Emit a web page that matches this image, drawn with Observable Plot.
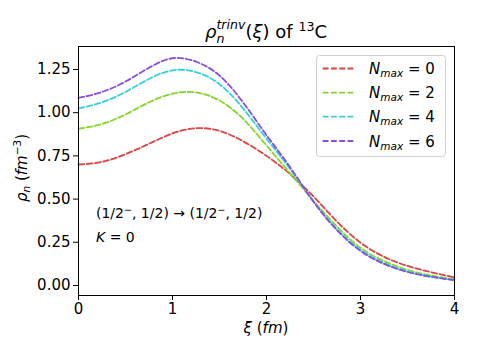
<!DOCTYPE html>
<html>
<head>
<meta charset="utf-8">
<script src="https://cdn.jsdelivr.net/npm/d3@7"></script>
<script src="https://cdn.jsdelivr.net/npm/@observablehq/plot@0.6"></script>
<style>
  html, body { margin: 0; padding: 0; background: white; }
  #chart svg { display: block; }
</style>
</head>
<body>
<div id="chart"></div>
<script>
// ---- data ----
const xi = [0, 0.25, 0.5, 0.75, 1.0, 1.25, 1.5, 1.75, 2.0, 2.25, 2.5, 2.75, 3.0, 3.25, 3.5, 3.75, 4.0];
const nmax0 = [0.700, 0.715, 0.760, 0.820, 0.880, 0.910, 0.895, 0.835, 0.750, 0.645, 0.515, 0.370, 0.248, 0.166, 0.113, 0.077, 0.046];
const nmax2 = [0.907, 0.935, 0.990, 1.060, 1.110, 1.117, 1.070, 0.965, 0.810, 0.650, 0.490, 0.340, 0.218, 0.141, 0.090, 0.058, 0.036];
const nmax4 = [1.025, 1.060, 1.120, 1.195, 1.245, 1.235, 1.165, 1.025, 0.850, 0.675, 0.485, 0.325, 0.206, 0.130, 0.082, 0.052, 0.032];
const nmax6 = [1.085, 1.120, 1.180, 1.260, 1.315, 1.295, 1.215, 1.060, 0.870, 0.685, 0.485, 0.320, 0.200, 0.125, 0.078, 0.050, 0.030];
const seriesNames = ["0", "2", "4", "6"];
const seriesColors = ["#dc4343", "#84d62a", "#34d2d6", "#8a4ddf"];
const yTicks = [0, 0.25, 0.5, 0.75, 1.0, 1.25];
const xTicks = [0, 1, 2, 3, 4];

const allSeries = [nmax0, nmax2, nmax4, nmax6];
const rows = [];
allSeries.forEach((vals, s) => {
  vals.forEach((v, i) => rows.push({xi: xi[i], rho: v, n: seriesNames[s]}));
});

const FONT = "DejaVu Sans";
const W = 477, H = 358;
const mL = 78, mR = 23, mT = 46, mB = 63;

const chart = Plot.plot({
  width: W, height: H,
  marginLeft: mL, marginRight: mR, marginTop: mT, marginBottom: mB,
  style: {fontFamily: FONT, fontSize: "15px", color: "black", background: "white"},
  x: {domain: [0, 4], label: null},
  y: {domain: [-0.058, 1.383], label: null},
  color: {domain: seriesNames, range: seriesColors},
  marks: [
    Plot.line(rows, {x: "xi", y: "rho", z: "n", stroke: "n", strokeWidth: 1.8,
      strokeDasharray: "5.8,2.5", curve: "natural"}),
    Plot.frame({stroke: "black", strokeWidth: 1}),
    Plot.axisX({ticks: xTicks, tickSize: 5, tickPadding: 3, fontSize: 15, stroke: "black", tickFormat: d3.format("d")}),
    Plot.axisY({ticks: yTicks, tickSize: 5, tickPadding: 3, fontSize: 15, stroke: "black", tickFormat: d3.format(".2f")})
  ]
});
document.getElementById("chart").appendChild(chart);

const svg = d3.select(chart);

// helper to build rich text
function rich(sel, parts) {
  parts.forEach(p => {
    const t = sel.append("tspan").text(p.t);
    if (p.i) t.attr("font-style", "italic");
    if (p.dy) t.attr("dy", p.dy);
    if (p.dx) t.attr("dx", p.dx);
    if (p.fs) t.attr("font-size", p.fs);
  });
  return sel;
}

// title
const title = svg.append("text")
  .attr("x", 266).attr("y", 38)
  .attr("text-anchor", "middle")
  .attr("font-family", FONT).attr("font-size", 18).attr("fill", "black");
rich(title, [
  {t: "ρ", i: true},
  {t: "n", i: true, fs: 12.6, dy: 5},
  {t: "trinv", i: true, fs: 12.6, dy: -14, dx: -8},
  {t: "(", dy: 9},
  {t: "ξ", i: true},
  {t: ") of "},
  {t: "13", fs: 12.6, dy: -7},
  {t: "C", dy: 7}
]);

// x label
const xl = svg.append("text")
  .attr("x", 266).attr("y", 333)
  .attr("text-anchor", "middle")
  .attr("font-family", FONT).attr("font-size", 15).attr("fill", "black");
rich(xl, [{t: "ξ", i: true}, {t: " ("}, {t: "fm", i: true}, {t: ")"}]);

// y label
const yl = svg.append("text")
  .attr("transform", "translate(27,168) rotate(-90)")
  .attr("text-anchor", "middle")
  .attr("font-family", FONT).attr("font-size", 15).attr("fill", "black");
rich(yl, [
  {t: "ρ", i: true},
  {t: "n", i: true, fs: 10.5, dy: 3},
  {t: " (", dy: -3},
  {t: "fm", i: true},
  {t: "−3", fs: 10.5, dy: -6},
  {t: ")", dy: 6}
]);

// annotation
const a1 = svg.append("text")
  .attr("x", 96).attr("y", 218)
  .attr("text-anchor", "start")
  .attr("font-family", FONT).attr("font-size", 14).attr("fill", "black");
rich(a1, [
  {t: "(1/2"}, {t: "−", fs: 9.5, dy: -5}, {t: ", 1/2) → (1/2", dy: 5},
  {t: "−", fs: 9.5, dy: -5}, {t: ", 1/2)", dy: 5}
]);
const a2 = svg.append("text")
  .attr("x", 96).attr("y", 242)
  .attr("text-anchor", "start")
  .attr("font-family", FONT).attr("font-size", 14).attr("fill", "black");
rich(a2, [{t: "K", i: true}, {t: " = 0"}]);

// legend
const lg = svg.append("g");
lg.append("rect")
  .attr("x", 316.5).attr("y", 55.5).attr("width", 129).attr("height", 101)
  .attr("rx", 3).attr("fill", "white").attr("fill-opacity", 0.8)
  .attr("stroke", "#d0d0d0").attr("stroke-width", 1);
const ly = [68.5, 92.7, 116.7, 141];
seriesNames.forEach((n, i) => {
  lg.append("line")
    .attr("x1", 322.7).attr("x2", 353.3).attr("y1", ly[i]).attr("y2", ly[i])
    .attr("stroke", seriesColors[i]).attr("stroke-width", 1.8)
    .attr("stroke-dasharray", "5.8,2.5");
  const t = lg.append("text")
    .attr("x", 369).attr("y", ly[i] + 5.5)
    .attr("text-anchor", "start")
    .attr("font-family", FONT).attr("font-size", 15).attr("fill", "black");
  rich(t, [
    {t: "N", i: true},
    {t: "max", i: true, fs: 10.5, dy: 3},
    {t: " = " + n, dy: -3}
  ]);
});
</script>
</body>
</html>
